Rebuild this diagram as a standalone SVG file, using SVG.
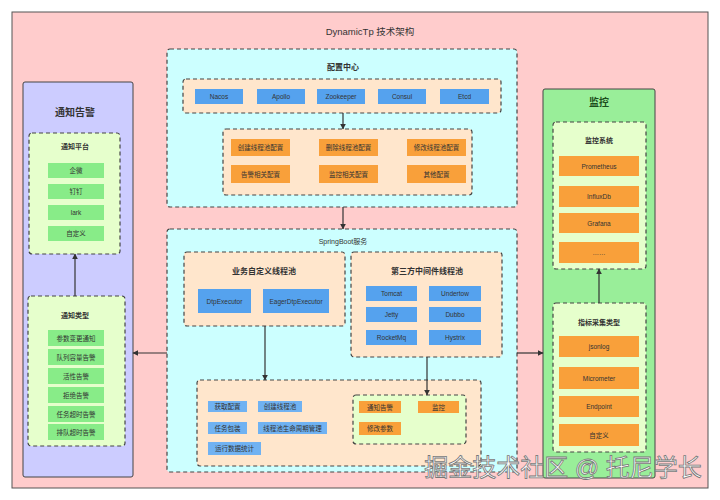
<svg xmlns="http://www.w3.org/2000/svg" width="720" height="500" viewBox="0 0 720 500">
<defs>
<marker id="ah" viewBox="0 0 10 10" refX="9" refY="5" markerWidth="6" markerHeight="6" orient="auto-start-reverse" markerUnits="userSpaceOnUse"><path d="M0,0 L10,5 L0,10 z" fill="#333"/></marker>
<style>
text{font-family:"Liberation Sans","Noto Sans CJK SC",sans-serif;text-anchor:middle;dominant-baseline:central;fill:#333}
.dash{stroke:#444;stroke-width:1.2;stroke-dasharray:4 3}
.cy{fill:#CCFFFF}
.pe{fill:#FFE6CC}
.lg{fill:#E6FFCC}
.bl{fill:#55A2EE}
.bl2{fill:#70B2F2}
.or{fill:#F9A03A}
.gr{fill:#88EC88}
.s{font-size:6.5px}
.t{font-size:8px;font-weight:bold}
.h{font-size:10px;font-weight:bold}
.c{stroke:#333;stroke-width:1.2;fill:none}
</style>
</defs>
<rect x="0" y="0" width="720" height="500" fill="#ffffff"/>
<g id="outer">
<rect x="12" y="12" width="696" height="476" fill="#FFCCCC" stroke="#555" stroke-width="1"/>
<text x="370" y="31" style="font-size:9.5px">DynamicTp 技术架构</text>
</g>
<g id="config">
<rect x="167" y="49" width="350" height="158" rx="3" class="cy dash"/>
<text x="343" y="67" class="t">配置中心</text>
<rect x="183" y="79" width="318" height="34" rx="3" class="pe dash"/>
<rect x="195" y="89" width="48" height="15" class="bl"/><text x="219" y="96.5" class="s">Nacos</text>
<rect x="257" y="89" width="48" height="15" class="bl"/><text x="281" y="96.5" class="s">Apollo</text>
<rect x="317" y="89" width="48" height="15" class="bl"/><text x="341" y="96.5" class="s">Zookeeper</text>
<rect x="378" y="89" width="48" height="15" class="bl"/><text x="402" y="96.5" class="s">Consul</text>
<rect x="440" y="89" width="49" height="15" class="bl"/><text x="464.5" y="96.5" class="s">Etcd</text>
<rect x="223" y="129" width="249" height="66" rx="3" class="pe dash"/>
<rect x="231" y="139" width="59" height="17" class="or"/><text x="260.5" y="147.5" class="s">创建线程池配置</text>
<rect x="319" y="139" width="59" height="17" class="or"/><text x="348.5" y="147.5" class="s">删除线程池配置</text>
<rect x="407" y="139" width="59" height="17" class="or"/><text x="436.5" y="147.5" class="s">修改线程池配置</text>
<rect x="231" y="165" width="59" height="18" class="or"/><text x="260.5" y="174" class="s">告警相关配置</text>
<rect x="319" y="165" width="59" height="18" class="or"/><text x="348.5" y="174" class="s">监控相关配置</text>
<rect x="407" y="165" width="59" height="18" class="or"/><text x="436.5" y="174" class="s">其他配置</text>
</g>
<g id="springboot">
<rect x="167" y="229" width="350" height="243" rx="3" class="cy dash"/>
<text x="343" y="241" class="s" style="font-size:7px">SpringBoot服务</text>
<rect x="184" y="252" width="161" height="74" rx="3" class="pe dash"/>
<text x="264" y="271" class="t">业务自定义线程池</text>
<rect x="198" y="289" width="53" height="24" class="bl"/><text x="224.5" y="301" class="s">DtpExecutor</text>
<rect x="263" y="289" width="66" height="24" class="bl"/><text x="296" y="301" class="s">EagerDtpExecutor</text>
<rect x="351" y="252" width="151" height="105" rx="3" class="pe dash"/>
<text x="427" y="271" class="t">第三方中间件线程池</text>
<rect x="366" y="286" width="51" height="15" class="bl"/><text x="391.5" y="293.5" class="s">Tomcat</text>
<rect x="429" y="286" width="52" height="15" class="bl"/><text x="455" y="293.5" class="s">Undertow</text>
<rect x="366" y="307" width="51" height="15" class="bl"/><text x="391.5" y="314.5" class="s">Jetty</text>
<rect x="429" y="307" width="52" height="15" class="bl"/><text x="455" y="314.5" class="s">Dubbo</text>
<rect x="366" y="330" width="51" height="15" class="bl"/><text x="391.5" y="337.5" class="s">RocketMq</text>
<rect x="429" y="330" width="52" height="15" class="bl"/><text x="455" y="337.5" class="s">Hystrix</text>
<rect x="197" y="380" width="284" height="86" rx="3" class="pe dash"/>
<rect x="208" y="401" width="39" height="11" class="bl2"/><text x="227.5" y="406.5" class="s">获取配置</text>
<rect x="258" y="401" width="44" height="11" class="bl2"/><text x="280" y="406.5" class="s">创建线程池</text>
<rect x="208" y="422" width="39" height="12" class="bl2"/><text x="227.5" y="428" class="s">任务包装</text>
<rect x="258" y="422" width="69" height="12" class="bl2"/><text x="292.5" y="428" class="s">线程池生命周期管理</text>
<rect x="208" y="442" width="53" height="13" class="bl2"/><text x="234.5" y="448.5" class="s">运行数据统计</text>
<rect x="353" y="395" width="113" height="49" rx="3" class="lg dash"/>
<rect x="359" y="401" width="42" height="12" class="or"/><text x="380" y="407" class="s">通知告警</text>
<rect x="418" y="401" width="41" height="12" class="or"/><text x="438.5" y="407" class="s">监控</text>
<rect x="359" y="422" width="42" height="13" class="or"/><text x="380" y="428.5" class="s">修改参数</text>
</g>
<g id="notify">
<rect x="23" y="82" width="110" height="395" rx="2" fill="#CCCCFF" stroke="#444" stroke-width="1"/>
<text x="75" y="112" class="h">通知告警</text>
<rect x="29" y="133" width="91" height="121" rx="3" class="lg dash"/>
<text x="75" y="146" class="s" style="font-size:7px;font-weight:bold">通知平台</text>
<rect x="48" y="163" width="56" height="15" class="gr"/><text x="76" y="170.5" class="s">企微</text>
<rect x="48" y="184" width="56" height="15" class="gr"/><text x="76" y="191.5" class="s">钉钉</text>
<rect x="48" y="205" width="56" height="15" class="gr"/><text x="76" y="212.5" class="s">lark</text>
<rect x="48" y="226" width="56" height="15" class="gr"/><text x="76" y="233.5" class="s">自定义</text>
<rect x="28" y="296" width="97" height="150" rx="3" class="lg dash"/>
<text x="75" y="315" class="s" style="font-size:7px;font-weight:bold">通知类型</text>
<rect x="48" y="330" width="56" height="16" class="gr"/><text x="76" y="338" class="s">参数变更通知</text>
<rect x="48" y="349" width="56" height="16" class="gr"/><text x="76" y="357" class="s">队列容量告警</text>
<rect x="48" y="368" width="56" height="16" class="gr"/><text x="76" y="376" class="s">活性告警</text>
<rect x="48" y="387" width="56" height="16" class="gr"/><text x="76" y="395" class="s">拒绝告警</text>
<rect x="48" y="406" width="56" height="16" class="gr"/><text x="76" y="414" class="s">任务超时告警</text>
<rect x="48" y="424" width="56" height="16" class="gr"/><text x="76" y="432" class="s">排队超时告警</text>
</g>
<g id="monitor">
<rect x="543" y="89" width="112" height="389" rx="2" fill="#99EE99" stroke="#444" stroke-width="1"/>
<text x="599" y="102" class="h" style="fill:#1d4d1d">监控</text>
<rect x="553" y="122" width="93" height="147" rx="3" class="lg dash"/>
<text x="599" y="140" class="s" style="font-size:7px;font-weight:bold">监控系统</text>
<rect x="559" y="156" width="80" height="20" class="or"/><text x="599" y="166" class="s">Prometheus</text>
<rect x="559" y="186" width="80" height="21" class="or"/><text x="599" y="196.5" class="s">InfluxDb</text>
<rect x="559" y="213" width="80" height="20" class="or"/><text x="599" y="223" class="s">Grafana</text>
<rect x="559" y="242" width="80" height="21" class="or"/><text x="599" y="252.5" class="s">……</text>
<rect x="553" y="303" width="93" height="149" rx="3" class="lg dash"/>
<text x="599" y="322" class="s" style="font-size:7px;font-weight:bold">指标采集类型</text>
<rect x="559" y="336" width="80" height="21" class="or"/><text x="599" y="346.5" class="s">jsonlog</text>
<rect x="559" y="367" width="80" height="22" class="or"/><text x="599" y="378" class="s">Micrometer</text>
<rect x="559" y="396" width="80" height="21" class="or"/><text x="599" y="406.5" class="s">Endpoint</text>
<rect x="559" y="424" width="80" height="22" class="or"/><text x="599" y="435" class="s">自定义</text>
</g>
<g id="connectors">
<line x1="343" y1="113" x2="343" y2="129" class="c" marker-end="url(#ah)"/>
<line x1="343" y1="207" x2="343" y2="229" class="c" marker-end="url(#ah)"/>
<line x1="265" y1="326" x2="265" y2="380" class="c" marker-end="url(#ah)"/>
<line x1="427" y1="357" x2="427" y2="395" class="c" marker-end="url(#ah)"/>
<line x1="167" y1="353" x2="133" y2="353" class="c" marker-end="url(#ah)"/>
<line x1="517" y1="353" x2="543" y2="353" class="c" marker-end="url(#ah)"/>
<line x1="75" y1="296" x2="75" y2="254" class="c" marker-end="url(#ah)"/>
<line x1="599" y1="303" x2="599" y2="269" class="c" marker-end="url(#ah)"/>
</g>
<text x="563" y="467" style="font-size:24px;fill:#ffffff;stroke:#777;stroke-width:0.8">掘金技术社区 @ 托尼学长</text>
</svg>
